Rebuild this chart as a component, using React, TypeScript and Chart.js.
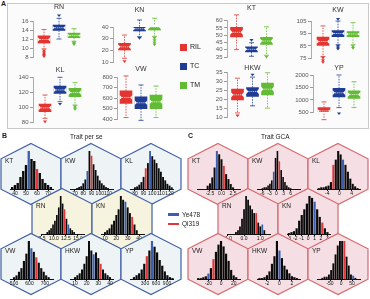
import React, { useEffect, useRef } from 'react';
import { Chart, registerables } from 'chart.js';
Chart.register(...registerables);
Chart.defaults.font.family = '"Liberation Sans", Arial, sans-serif';

// ---------- Panel A: box plots ----------
const GROUPS = ['RIL', 'TC', 'TM'];
const GROUP_COLORS = ['#e3342f', '#1f3d95', '#62bb34'];

// each row: [lower whisker, Q1, median, Q3, upper whisker]
const RN_BOX = [[9.8, 11.1, 11.9, 12.7, 14.1], [12.0, 13.9, 14.5, 15.1, 16.6], [11.5, 12.3, 12.8, 13.3, 14.3]];
const RN_OUT = [[9.4, 9.0, 8.7, 8.4, 8.1], [17.2], [11.2, 11.0, 10.8]];
const RN_TICKS = [8, 10, 12, 14, 16];

const KN_BOX = [[13.2, 20.3, 23, 26, 33.1], [31.7, 36.6, 38.5, 40.3, 46], [32, 37.4, 40, 42.3, 47.5]];
const KN_OUT = [[10.5], [30.3], [30.3, 28.5, 26.5, 24.8]];
const KN_TICKS = [10, 20, 30, 40];

const KT_BOX = [[40.1, 48.9, 52, 55.4, 64], [35.5, 38.5, 40.3, 42, 44.8], [36.2, 43.6, 46, 48.5, 55.8]];
const KT_OUT = [[], [46.6], [35]];
const KT_TICKS = [35, 40, 45, 50, 55, 60];

const KW_BOX = [[76.3, 85.3, 88.6, 92.2, 101.5], [85.9, 92.7, 95.2, 97.6, 105.5], [86, 92.7, 94.8, 96.8, 104.2]];
const KW_OUT = [[75, 73, 71.4], [107, 85, 83.5, 82.4], [84.5, 83]];
const KW_TICKS = [75, 85, 95, 105];

const KL_BOX = [[85, 93.8, 99, 104.2, 116.2], [107.3, 118.5, 123, 128.3, 140], [102.8, 114, 119.5, 125.2, 132.8]];
const KL_OUT = [[80.4], [104], [101, 99, 97]];
const KL_TICKS = [80, 100, 120, 140];

const VW_BOX = [[414, 549, 607, 671, 813], [387, 500, 555, 613, 726], [414, 500, 565, 629, 716]];
const VW_OUT = [[], [], []];
const VW_TICKS = [400, 500, 600, 700, 800];

const HKW_BOX = [[12.3, 19.7, 22.5, 25.7, 31.9], [16.3, 21.6, 24.4, 26.6, 32.5], [15, 22.5, 25.7, 29.1, 35]];
const HKW_OUT = [[10.7], [33.8], []];
const HKW_TICKS = [10, 15, 20, 25, 30, 35];

const YP_BOX = [[183, 433, 542, 683, 917], [683, 1125, 1292, 1475, 2030], [683, 1058, 1220, 1375, 1750]];
const YP_OUT = [[], [433], []];
const YP_TICKS = [500, 1000, 1500, 2000];

// layout of the box subplots (pixels)
const BOX_LAYOUT = [
  { title: 'RN', box: RN_BOX, out: RN_OUT, ticks: RN_TICKS, axisX: 33, c1: 44, titleY: 7, yTop: 21, yBot: 57.3 },
  { title: 'KN', box: KN_BOX, out: KN_OUT, ticks: KN_TICKS, axisX: 113, c1: 124.5, titleY: 10, yTop: 27, yBot: 62 },
  { title: 'KT', box: KT_BOX, out: KT_OUT, ticks: KT_TICKS, axisX: 227, c1: 236.5, titleY: 8, yTop: 20.7, yBot: 56.7 },
  { title: 'KW', box: KW_BOX, out: KW_OUT, ticks: KW_TICKS, axisX: 311, c1: 323, titleY: 10, yTop: 21.7, yBot: 58.3 },
  { title: 'KL', box: KL_BOX, out: KL_OUT, ticks: KL_TICKS, axisX: 33, c1: 45, titleY: 70, yTop: 77.3, yBot: 122 },
  { title: 'VW', box: VW_BOX, out: VW_OUT, ticks: VW_TICKS, axisX: 117, c1: 126, titleY: 69, yTop: 77.3, yBot: 118.7 },
  { title: 'HKW', box: HKW_BOX, out: HKW_OUT, ticks: HKW_TICKS, axisX: 227, c1: 237.5, titleY: 68, yTop: 72.7, yBot: 117.3 },
  { title: 'YP', box: YP_BOX, out: YP_OUT, ticks: YP_TICKS, axisX: 313, c1: 324, titleY: 68, yTop: 75.7, yBot: 111.7 },
];

// ---------- Panels B & C: histograms ----------
const PARENT_NAMES = ['Ye478', 'Qi319'];
const BLUE = '#3b5eaf';
const RED = '#e2373a';
const BLACK = '#0a0a0a';

const B_KT_BINS = [37.5, 40, 42.5, 45, 47.5, 50, 52.5, 55, 57.5, 60, 62.5, 65, 67.5, 70, 72.5];
const B_KT_COUNTS = [1, 2, 3, 6, 9, 12, 19, 15, 14, 10, 8, 5, 3, 2, 1];
const B_KT_TICKS = [40, 50, 60, 70];
const B_KW_BINS = [72.5, 75, 77.5, 80, 82.5, 85, 87.5, 90, 92.5, 95, 97.5, 100, 102.5, 105, 107.5, 110];
const B_KW_COUNTS = [0.5, 1, 1.5, 3, 5, 9.5, 20, 17.5, 13, 10, 7, 4.5, 3, 2, 1, 0.5];
const B_KW_TICKS = [70, 80, 90, 100, 110];
const B_KL_BINS = [80, 82.5, 85, 87.5, 90, 92.5, 95, 97.5, 100, 102.5, 105, 107.5, 110, 112.5, 115, 117.5, 120, 122.5];
const B_KL_COUNTS = [1, 1.5, 2.5, 4, 7, 12, 15, 22, 19, 17, 15, 12, 10, 7, 5, 3, 2, 1];
const B_KL_TICKS = [80, 90, 100, 110, 120];
const B_RN_BINS = [8.6, 9.0, 9.4, 9.8, 10.2, 10.6, 11.0, 11.4, 11.8, 12.2, 12.6, 13.0, 13.4, 13.8, 14.2];
const B_RN_COUNTS = [1, 2, 3, 5, 7, 10, 14, 20, 16, 13, 8, 5, 3, 2, 1];
const B_RN_TICKS = [7.5, 10, 12.5, 15];
const B_KN_BINS = [10, 12, 14, 16, 18, 20, 22, 24, 26, 28, 30, 32, 34, 36, 38];
const B_KN_COUNTS = [1, 2, 3, 5, 7, 10, 13, 20, 18, 17, 14, 11, 9, 5, 2];
const B_KN_TICKS = [10, 20, 30, 40];
const B_VW_BINS = [500, 516, 532, 548, 564, 580, 596, 612, 628, 644, 660, 676, 692, 708, 724];
const B_VW_COUNTS = [1, 2, 4, 6, 10, 14, 21, 17, 15, 12, 9, 6, 4, 2, 1];
const B_VW_TICKS = [500, 600, 700];
const B_HKW_BINS = [10, 12, 14, 16, 18, 20, 22, 24, 26, 28, 30, 32, 34, 36, 38, 40];
const B_HKW_COUNTS = [1, 2, 3, 5, 8, 12, 20, 15, 13, 14, 11, 8, 5, 3, 2, 1];
const B_HKW_TICKS = [10, 20, 30, 40];
const B_YP_BINS = [0, 70, 140, 210, 280, 350, 420, 490, 560, 630, 700, 770, 840, 910, 980, 1050];
const B_YP_COUNTS = [1, 2, 3, 5, 8, 12, 15, 20, 17, 14, 10, 7, 4, 2, 1, 0.5];
const B_YP_TICKS = [300, 600, 900];

const C_KT_BINS = [-3, -2.5, -2, -1.5, -1, -0.5, 0, 0.5, 1, 1.5, 2, 2.5];
const C_KT_COUNTS = [2, 3.4, 7, 13, 23, 21, 18, 14, 9, 6, 3, 1];
const C_KT_TICKS = [-2.5, 0, 2.5];
const C_KW_BINS = [-6, -5.2, -4.4, -3.6, -2.8, -2, -1.2, -0.4, 0.4, 1.2, 2, 2.8, 3.6, 4.4, 5.2, 6];
const C_KW_COUNTS = [0.5, 1, 1, 2, 3, 5, 10, 18, 22, 16, 11, 7, 4, 2, 1, 0.5];
const C_KW_TICKS = [-6, -3, 0, 3, 6];
const C_KL_BINS = [-6.8, -6, -5.2, -4.4, -3.6, -2.8, -2, -1.2, -0.4, 0.4, 1.2, 2, 2.8, 3.6, 4.4, 5.2, 6];
const C_KL_COUNTS = [0.5, 1, 1, 1.5, 2, 4, 14, 17, 22, 20, 17, 14, 10, 6, 3, 1.5, 0.5];
const C_KL_TICKS = [-4, 0, 4];
const C_RN_BINS = [-0.5, -0.375, -0.25, -0.125, 0, 0.125, 0.25, 0.375, 0.5, 0.625, 0.75, 0.875, 1, 1.125, 1.25];
const C_RN_COUNTS = [1, 2, 4, 8, 13, 20, 18, 15, 13, 11, 11, 6, 4, 5, 2];
const C_RN_TICKS = [-1, 0, 1];
const C_KN_BINS = [-3, -2.6, -2.2, -1.8, -1.4, -1, -0.6, -0.2, 0.2, 0.6, 1, 1.4, 1.8, 2.2, 2.6, 3];
const C_KN_COUNTS = [0.5, 1, 1.5, 3, 7, 10, 13, 16, 20, 19, 17, 13, 9, 6, 3, 1];
const C_KN_TICKS = [-3, -2, -1, 0, 1, 2, 3];
const C_VW_BINS = [-36, -32, -28, -24, -20, -16, -12, -8, -4, 0, 4, 8, 12, 16, 20, 24];
const C_VW_COUNTS = [0.5, 0.5, 1, 1.5, 3, 6, 11, 15, 19, 21, 18, 14, 10, 5, 2, 1];
const C_VW_TICKS = [-20, 0, 20];
const C_HKW_BINS = [-3.2, -2.8, -2.4, -2, -1.6, -1.2, -0.8, -0.4, 0, 0.4, 0.8, 1.2, 1.6, 2, 2.4, 2.8];
const C_HKW_COUNTS = [0.5, 0.5, 1, 2, 4, 8, 12, 20, 15, 11, 7, 5, 3, 1.5, 1, 0.5];
const C_HKW_TICKS = [-2, 0, 2];
const C_YP_BINS = [-85, -75, -65, -55, -45, -35, -25, -15, -5, 5, 15, 25, 35, 45, 55, 65];
const C_YP_COUNTS = [0.5, 1, 1, 2, 4, 7, 11, 15, 17, 17, 17, 10, 6, 2, 1.5, 0.5];
const C_YP_TICKS = [-50, 0, 50];

const fmt1 = (v: number) => v.toFixed(1);
const fmt0 = (v: number) => String(v);

// parent bins: [Ye478 (blue) index, Qi319 (red) index]
const HISTS = [
  { t: 'KT', p: 'B', cx: 31, cy: 174, bins: B_KT_BINS, counts: B_KT_COUNTS, mark: [6, 9], ticks: B_KT_TICKS, f: fmt0, range: [35.5, 74.5] },
  { t: 'KW', p: 'B', cx: 91, cy: 174, bins: B_KW_BINS, counts: B_KW_COUNTS, mark: [5, 7], ticks: B_KW_TICKS, f: fmt0, range: [64, 116] },
  { t: 'KL', p: 'B', cx: 151, cy: 174, bins: B_KL_BINS, counts: B_KL_COUNTS, mark: [7, 5], ticks: B_KL_TICKS, f: fmt0, range: [74.3, 124] },
  { t: 'RN', p: 'B2', cx: 62, cy: 219, bins: B_RN_BINS, counts: B_RN_COUNTS, mark: [11, 9], ticks: B_RN_TICKS, f: fmt1, range: [7.3, 16.25] },
  { t: 'KN', p: 'B2', cx: 122, cy: 219, bins: B_KN_BINS, counts: B_KN_COUNTS, mark: [9, 12], ticks: B_KN_TICKS, f: fmt0, range: [6.5, 44.4] },
  { t: 'VW', p: 'B', cx: 31, cy: 264, bins: B_VW_BINS, counts: B_VW_COUNTS, mark: [7, 9], ticks: B_VW_TICKS, f: fmt0, range: [474, 752] },
  { t: 'HKW', p: 'B', cx: 91, cy: 264, bins: B_HKW_BINS, counts: B_HKW_COUNTS, mark: [8, 11], ticks: B_HKW_TICKS, f: fmt0, range: [5.7, 42.6] },
  { t: 'YP', p: 'B', cx: 151, cy: 264, bins: B_YP_BINS, counts: B_YP_COUNTS, mark: [7, 5], ticks: B_YP_TICKS, f: fmt0, range: [-109, 1063] },
  { t: 'KT', p: 'C', cx: 218, cy: 174, bins: C_KT_BINS, counts: C_KT_COUNTS, mark: [4, 7], ticks: C_KT_TICKS, f: fmt1, range: [-5.3, 4.0] },
  { t: 'KW', p: 'C', cx: 278, cy: 174, bins: C_KW_BINS, counts: C_KW_COUNTS, mark: [6, 9], ticks: C_KW_TICKS, f: fmt0, range: [-8.3, 10] },
  { t: 'KL', p: 'C', cx: 338, cy: 174, bins: C_KL_BINS, counts: C_KL_COUNTS, mark: [10, 6], ticks: C_KL_TICKS, f: fmt0, range: [-7.4, 6.8] },
  { t: 'RN', p: 'C', cx: 248, cy: 219, bins: C_RN_BINS, counts: C_RN_COUNTS, mark: [13, 10], ticks: C_RN_TICKS, f: fmt1, range: [-1.05, 1.6] },
  { t: 'KN', p: 'C', cx: 308, cy: 219, bins: C_KN_BINS, counts: C_KN_COUNTS, mark: [10, 13], ticks: C_KN_TICKS, f: fmt0, range: [-3.3, 3.4] },
  { t: 'VW', p: 'C', cx: 218, cy: 264, bins: C_VW_BINS, counts: C_VW_COUNTS, mark: [4, 6], ticks: C_VW_TICKS, f: fmt0, range: [-38, 30] },
  { t: 'HKW', p: 'C', cx: 278, cy: 264, bins: C_HKW_BINS, counts: C_HKW_COUNTS, mark: [8, -1], ticks: C_HKW_TICKS, f: fmt0, range: [-3.6, 3.3] },
  { t: 'YP', p: 'C', cx: 338, cy: 264, bins: C_YP_BINS, counts: C_YP_COUNTS, mark: [14, 10], ticks: C_YP_TICKS, f: fmt0, range: [-109, 86] },
];

const HEX_STYLE: Record<string, { fill: string; stroke: string }> = {
  B: { fill: '#eef3f6', stroke: '#3f5fa6' },
  B2: { fill: '#f6f3de', stroke: '#3f5fa6' },
  C: { fill: '#f5dfe4', stroke: '#d6686b' },
};

function BoxChart({ spec }: { spec: any }) {
  const ref = useRef<HTMLCanvasElement>(null);
  const yAxisW = 22;
  const step = 15;
  const areaW = spec.c1 - spec.axisX + 39;
  const left = spec.axisX - yAxisW;
  const top = spec.titleY - 7;
  const W = Math.round(yAxisW + areaW);
  const H = Math.round(spec.yBot + 10 - top);
  const xMin = 1 - (spec.c1 - spec.axisX) / step;
  const xMax = xMin + (W - yAxisW) / step;
  useEffect(() => {
    const stats = spec.box as number[][];
    const outs = spec.out as number[][];
    const plugin = {
      id: 'boxExtras',
      afterDatasetsDraw(chart: any) {
        const { ctx } = chart;
        const xs = chart.scales.x;
        const ys = chart.scales.y;
        stats.forEach((s, i) => {
          const px = xs.getPixelForValue(i + 1);
          const col = GROUP_COLORS[i];
          const [lo, q1, med, q3, hi] = s.map((v) => ys.getPixelForValue(v));
          ctx.save();
          ctx.strokeStyle = col;
          ctx.lineWidth = 0.8;
          ctx.setLineDash([1.5, 1.2]);
          ctx.beginPath();
          ctx.moveTo(px, q3);
          ctx.lineTo(px, hi);
          ctx.moveTo(px, q1);
          ctx.lineTo(px, lo);
          ctx.stroke();
          ctx.setLineDash([]);
          ctx.beginPath();
          ctx.moveTo(px - 2.5, hi);
          ctx.lineTo(px + 2.5, hi);
          ctx.moveTo(px - 2.5, lo);
          ctx.lineTo(px + 2.5, lo);
          ctx.stroke();
          // notch
          const hw = 6;
          const n = Math.min(2.5, (q1 - q3) / 3);
          ctx.fillStyle = '#ffffff';
          ctx.beginPath();
          ctx.moveTo(px - hw - 0.5, med - n);
          ctx.lineTo(px - hw + 2, med);
          ctx.lineTo(px - hw - 0.5, med + n);
          ctx.closePath();
          ctx.fill();
          ctx.beginPath();
          ctx.moveTo(px + hw + 0.5, med - n);
          ctx.lineTo(px + hw - 2, med);
          ctx.lineTo(px + hw + 0.5, med + n);
          ctx.closePath();
          ctx.fill();
          ctx.strokeStyle = '#ffffff';
          ctx.setLineDash([1.3, 0.8]);
          ctx.lineWidth = 0.7;
          ctx.beginPath();
          ctx.moveTo(px - hw + 2, med);
          ctx.lineTo(px + hw - 2, med);
          ctx.stroke();
          ctx.setLineDash([]);
          // outliers
          ctx.fillStyle = col;
          outs[i].forEach((o) => {
            const oy = ys.getPixelForValue(o);
            ctx.beginPath();
            ctx.moveTo(px - 2, oy - 1.2);
            ctx.lineTo(px + 2, oy - 1.2);
            ctx.lineTo(px, oy + 1.5);
            ctx.closePath();
            ctx.fill();
          });
          ctx.restore();
        });
        ctx.save();
        ctx.fillStyle = '#333';
        ctx.font = '7px "Liberation Sans", Arial, sans-serif';
        ctx.textAlign = 'center';
        ctx.textBaseline = 'middle';
        ctx.fillText(spec.title, xs.getPixelForValue(2), 7);
        ctx.restore();
      },
    };
    const ticks = spec.ticks as number[];
    const chart = new Chart(ref.current as HTMLCanvasElement, {
      type: 'bar',
      data: {
        datasets: [
          {
            label: spec.title,
            data: stats.map((s, i) => ({ x: i + 1, y: [s[1], s[3]] })) as any,
            backgroundColor: GROUP_COLORS,
            borderWidth: 0,
            barThickness: 12,
          },
        ],
      },
      options: {
        responsive: false,
        animation: false,
        events: [],
        layout: { padding: { left: 0, right: 0, top: spec.yTop - top, bottom: 10 } },
        plugins: { legend: { display: false }, tooltip: { enabled: false } },
        scales: {
          x: { type: 'linear', display: false, min: xMin, max: xMax, offset: false, grid: { offset: false } },
          y: {
            type: 'linear',
            min: ticks[0],
            max: ticks[ticks.length - 1],
            afterBuildTicks: (s: any) => {
              s.ticks = ticks.map((v) => ({ value: v }));
            },
            afterFit: (s: any) => {
              s.width = yAxisW;
            },
            ticks: {
              autoSkip: false,
              font: { size: 6 },
              color: '#555',
              padding: 1.5,
              callback: (v: any) => String(v),
            },
            grid: { drawOnChartArea: false, tickLength: 3, color: '#999' },
            border: { color: '#999', width: 0.8 },
          },
        },
      } as any,
      plugins: [plugin],
    });
    return () => chart.destroy();
  }, []);
  return (
    <canvas
      ref={ref}
      width={W}
      height={H}
      style={{ position: 'absolute', left, top, width: W, height: H }}
    />
  );
}

function HistChart({ spec }: { spec: any }) {
  const ref = useRef<HTMLCanvasElement>(null);
  const W = 62;
  const H = 64;
  const left = spec.cx - 31;
  const top = spec.cy - 32;
  useEffect(() => {
    const style = HEX_STYLE[spec.p];
    const counts = spec.counts as number[];
    const bins = spec.bins as number[];
    const ticks = spec.ticks as number[];
    const colors = counts.map((_, i) => (i === spec.mark[0] ? BLUE : i === spec.mark[1] ? RED : BLACK));
    const hexPlugin = {
      id: 'hex',
      beforeDraw(chart: any) {
        const ctx = chart.ctx;
        const cx = 31;
        const cy = 32;
        const hw = 30;
        const hv = 30.5;
        const hs = 15.25;
        ctx.save();
        ctx.beginPath();
        ctx.moveTo(cx, cy - hv);
        ctx.lineTo(cx + hw, cy - hs);
        ctx.lineTo(cx + hw, cy + hs);
        ctx.lineTo(cx, cy + hv);
        ctx.lineTo(cx - hw, cy + hs);
        ctx.lineTo(cx - hw, cy - hs);
        ctx.closePath();
        ctx.fillStyle = style.fill;
        ctx.fill();
        ctx.lineWidth = 1.2;
        ctx.strokeStyle = style.stroke;
        ctx.stroke();
        ctx.fillStyle = '#222';
        ctx.font = '6.5px "Liberation Sans", Arial, sans-serif';
        ctx.textBaseline = 'middle';
        ctx.textAlign = 'left';
        ctx.fillText(spec.t, cx - 26, cy - 13);
        ctx.restore();
      },
    };
    const chart = new Chart(ref.current as HTMLCanvasElement, {
      type: 'bar',
      data: {
        datasets: [
          {
            label: spec.t,
            data: bins.map((b, i) => ({ x: b, y: counts[i] })) as any,
            backgroundColor: colors,
            borderWidth: 0,
            barPercentage: 0.86,
            categoryPercentage: 1,
            clip: false as any,
          },
        ],
      },
      options: {
        responsive: false,
        animation: false,
        events: [],
        layout: { padding: { left: 10, right: 9, top: 9, bottom: 9 } },
        plugins: { legend: { display: false }, tooltip: { enabled: false } },
        scales: {
          x: {
            type: 'linear',
            min: spec.range[0],
            max: spec.range[1],
            offset: false,
            afterBuildTicks: (s: any) => {
              s.ticks = ticks.map((v) => ({ value: v }));
            },
            afterFit: (s: any) => {
              s.height = 8;
            },
            ticks: {
              autoSkip: false,
              maxRotation: 0,
              font: { size: 5 },
              color: '#111',
              padding: 0,
              callback: (v: any) => spec.f(Number(v)),
            },
            grid: { drawOnChartArea: false, tickLength: 2, color: '#111', offset: false },
            border: { color: '#111', width: 1 },
          },
          y: { display: false, min: 0, max: Math.max(...counts) },
        },
      } as any,
      plugins: [hexPlugin],
    });
    return () => chart.destroy();
  }, []);
  return (
    <canvas
      ref={ref}
      width={W}
      height={H}
      style={{ position: 'absolute', left, top, width: W, height: H }}
    />
  );
}

const txt = (s: string, x: number, y: number, size: number, extra: any = {}) => (
  <div
    style={{
      position: 'absolute',
      left: x,
      top: y - size * 0.6,
      fontSize: size,
      lineHeight: `${size * 1.2}px`,
      whiteSpace: 'nowrap',
      color: '#222',
      ...extra,
    }}
  >
    {s}
  </div>
);

export default function App() {
  return (
    <div
      style={{
        position: 'fixed',
        left: 0,
        top: 0,
        width: 370,
        height: 299,
        background: '#ffffff',
        overflow: 'hidden',
        fontFamily: '"Liberation Sans", Arial, sans-serif',
      }}
    >
      <div
        style={{
          position: 'absolute',
          left: 7,
          top: 3,
          width: 360,
          height: 124,
          border: '1px solid #c9c9c9',
          background: '#fbfbfb',
        }}
      />
      {txt('A', 1, 4, 7, { fontWeight: 'bold' })}
      {BOX_LAYOUT.map((s, i) => (
        <BoxChart key={'box' + i} spec={s} />
      ))}
      {GROUPS.map((g, i) => (
        <React.Fragment key={g}>
          <div
            style={{
              position: 'absolute',
              left: 180,
              top: 43.5 + i * 19,
              width: 7,
              height: 7,
              background: GROUP_COLORS[i],
            }}
          />
          {txt(g, 190, 47 + i * 19, 7)}
        </React.Fragment>
      ))}
      {txt('B', 2, 136, 7, { fontWeight: 'bold' })}
      {txt('C', 188, 136, 7, { fontWeight: 'bold' })}
      {txt('Trait per se', 70, 137, 6.5)}
      {txt('Trait GCA', 261, 137, 6.5)}
      {HISTS.map((h, i) => (
        <HistChart key={'h' + i} spec={h} />
      ))}
      {PARENT_NAMES.map((n, i) => (
        <React.Fragment key={n}>
          <div
            style={{
              position: 'absolute',
              left: 168,
              top: 213 + i * 9.5,
              width: 11,
              height: 2.5,
              background: i === 0 ? BLUE : RED,
            }}
          />
          {txt(n, 182, 214.5 + i * 9.5, 6.5)}
        </React.Fragment>
      ))}
    </div>
  );
}
